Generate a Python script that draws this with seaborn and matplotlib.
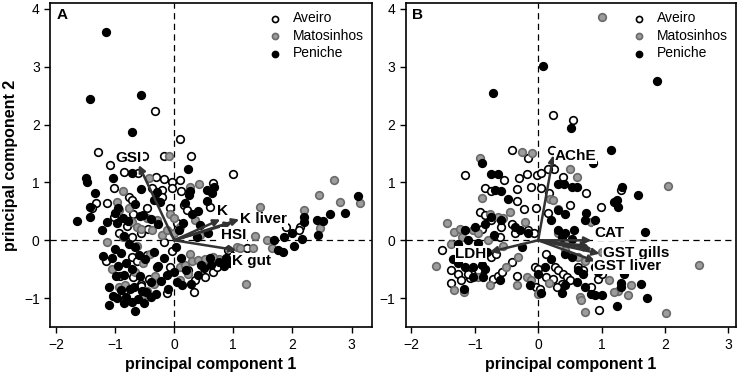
import numpy as np
import pandas as pd
import matplotlib
matplotlib.use("Agg")
import matplotlib.pyplot as plt
import seaborn as sns

# panel A - scores (PC1, PC2) per site
a_aveiro = [(-0.32,2.23),(0.10,1.75),(-1.29,1.53),(-0.51,1.46),(0.28,1.46),(-0.17,1.45),(1.00,1.14),
            (-1.09,1.30),(-0.85,1.18),(-0.61,1.16),(-0.30,1.10),(-0.18,1.06),(-0.04,1.01),(0.65,0.99),
            (-1.02,0.90),(-0.77,0.75),(-0.72,0.69),(-1.32,0.64),(-1.39,0.55),(-1.14,0.64),(-0.38,0.90),
            (-0.21,0.87),(-0.21,0.75),(-0.03,0.91),(0.12,0.85),(0.17,0.61),(0.21,0.52),(-0.07,0.55),
            (0.61,0.58),(-0.46,0.55),(-1.02,0.40),(-0.69,0.46),(-0.94,0.12),(-0.72,0.06),(-0.57,0.12),
            (-0.18,-0.03),(-0.04,-0.18),(-1.15,-0.35),(-0.72,-0.29),(-0.63,-0.35),(-0.46,-0.26),
            (-0.29,-0.46),(-0.07,-0.46),(-0.91,-0.61),(-0.70,-0.64),(-0.57,-0.75),(-0.57,-0.79),
            (-0.43,-0.66),(-0.12,-0.91),(0.33,-0.90),(0.36,-0.68),(0.52,-0.64),(0.24,-0.52),
            (0.66,-0.55),(0.72,-0.46),(0.95,-0.23),(1.23,-0.14),(0.91,-0.17),(1.90,0.23),(2.13,0.23),
            (2.12,0.17),(0.10,1.04),(-0.80,0.25),(-0.45,0.20),(0.05,0.30)]
a_matos = [(-0.09,1.45),(2.45,0.78),(2.71,1.04),(2.80,0.66),(3.14,0.64),(2.20,0.52),(2.46,0.21),
           (1.46,0.57),(1.37,0.07),(1.57,0.01),(1.65,-0.14),(1.34,-0.14),(1.22,-0.76),(1.06,-0.12),
           (1.11,-0.14),(0.75,-0.32),(0.66,-0.29),(0.42,0.98),(0.26,0.92),(-0.43,1.07),(-0.87,0.86),
           (-0.97,0.66),(-0.94,0.52),(-0.77,0.55),(-0.72,0.32),(-0.63,0.23),(-0.57,0.20),(-0.46,0.38),
           (-0.38,0.17),(-0.29,0.35),(-0.21,0.09),(-0.12,0.17),(-0.01,0.12),(0.10,0.23),(-0.07,0.46),
           (-0.01,0.38),(-1.14,-0.03),(-0.86,0.05),(-1.05,-0.49),(-0.52,-0.40),(-0.41,-0.23),
           (-0.35,-0.75),(-0.46,-0.87),(-0.52,-0.95),(-0.94,-0.81),(-0.83,-0.78),(0.10,-0.46),
           (0.19,-0.43),(0.27,-0.23),(0.30,-0.35),(0.41,-0.34),(0.52,-0.32),(0.24,-0.58),(0.10,-0.69),
           (-0.32,-0.61),(-0.63,-0.09),(0.44,0.09),(-0.66,-0.55),(0.35,0.35)]
a_pen = [(-1.15,3.60),(-1.42,2.44),(-0.57,2.51),(-0.72,1.87),(0.23,1.23),(-1.49,1.07),(-1.47,1.01),
         (-1.34,0.81),(-1.42,0.58),(-1.42,0.40),(-1.64,0.34),(-1.22,0.17),(-1.13,0.32),(-1.04,1.07),
         (-0.72,1.16),(-0.57,0.88),(3.11,0.76),(2.89,0.48),(2.63,0.45),(2.52,0.34),(2.41,0.35),
         (2.44,0.10),(2.20,0.40),(2.20,0.32),(1.99,0.13),(2.03,-0.10),(2.16,0.02),(1.86,0.05),
         (1.69,0.00),(1.76,-0.17),(1.84,-0.21),(0.38,0.05),(0.64,0.81),(0.67,0.92),(0.56,0.87),
         (0.27,0.85),(0.25,0.79),(0.18,0.65),(0.55,0.68),(-0.29,0.84),(-0.24,0.66),(-0.34,0.69),
         (-0.95,0.55),(-1.00,0.47),(-0.87,0.38),(-0.96,0.30),(-0.78,0.34),(-0.58,0.42),(-0.52,0.44),
         (-0.66,0.62),(-0.40,0.37),(-0.28,0.28),(0.08,0.18),(0.15,0.30),(0.30,0.45),(0.44,0.26),
         (0.58,0.12),(0.40,0.50),(-0.85,0.08),(-0.76,-0.06),(-0.66,-0.12),(-1.20,-0.27),(-1.05,-0.30),
         (-0.90,-0.22),(-0.60,-0.25),(-0.50,-0.33),(-0.35,-0.20),(-0.18,-0.30),(0.03,-0.12),
         (0.12,-0.30),(-1.11,-1.11),(-0.66,-1.23),(-0.51,-1.09),(-1.03,-0.96),(-0.97,-1.00),
         (-0.82,-0.98),(-0.72,-1.06),(-0.62,-1.02),(-0.90,-0.86),(-0.75,-0.85),(-0.55,-0.88),
         (-0.48,-0.90),(-0.30,-0.93),(-0.10,-0.85),(0.05,-0.72),(0.14,-0.78),(0.28,-0.75),
         (-1.10,-0.80),(-0.98,-0.62),(-0.85,-0.60),(-0.72,-0.50),(-0.58,-0.62),(-0.40,-0.72),
         (-0.22,-0.70),(-0.12,-0.60),(0.00,-0.55),(0.20,-0.52),(0.40,-0.60),(0.50,-0.47),(0.62,-0.42),
         (0.75,-0.38),(0.85,-0.45),(0.95,-0.40),(0.88,-0.30),(0.60,-0.30),(0.45,-0.42),(-0.28,-0.45),
         (-0.82,-0.40),(-0.95,-0.45),(-1.00,-0.15),(-0.68,-0.80),(-0.85,-1.08),(-0.40,-0.98)]

# panel B - scores
b_aveiro = [(0.24,2.17),(0.55,2.08),(-0.41,1.56),(-0.16,1.43),(0.22,1.56),(0.25,1.24),(0.15,1.24),
            (-0.02,1.13),(0.04,1.16),(-0.17,1.14),(-0.31,1.07),(-1.16,1.12),(-0.84,0.91),(-0.75,0.86),
            (-0.54,1.04),(-0.33,0.88),(-0.11,0.92),(0.04,0.91),(0.39,1.10),(0.50,0.61),(0.17,0.81),
            (0.15,0.47),(0.76,0.81),(0.99,0.57),(1.30,0.87),(-0.33,0.68),(-0.23,0.54),(-0.92,0.49),
            (-0.84,0.43),(-0.74,0.35),(-0.58,0.23),(-0.42,0.28),(-0.37,0.12),(-0.16,0.17),(-0.07,0.12),
            (-0.03,0.55),(-1.51,-0.16),(-1.37,-0.51),(-1.37,-0.74),(-1.27,-0.59),(-1.21,-0.69),
            (-1.08,-0.65),(-1.10,-0.58),(-0.95,-0.52),(-0.71,-0.66),(-0.64,-0.61),(-0.57,-0.55),
            (-0.74,-0.29),(-0.66,-0.23),(-0.42,-0.38),(-0.33,-0.62),(-0.05,-0.46),(0.00,-0.49),
            (-0.03,-0.81),(0.03,-0.84),(0.13,-0.64),(0.24,-0.66),(0.26,-0.46),(0.32,-0.52),(0.39,-0.58),
            (0.45,-0.64),(0.50,-0.69),(0.37,-0.75),(0.29,-0.80),(0.63,-0.46),(0.71,-0.52),(0.84,-0.81),
            (0.95,-0.66),(1.00,-0.58),(0.96,-1.21),(0.13,-0.23),(-0.88,0.20),(-0.60,0.05)]
b_matos = [(1.01,3.86),(2.05,0.94),(2.54,-0.42),(2.02,-1.25),(0.74,-1.24),(-1.61,-0.45),(-1.44,0.30),
           (-1.33,0.14),(-1.24,0.19),(-1.37,-0.06),(-1.33,-0.86),(-1.17,-0.90),(-0.91,1.43),(-0.89,0.73),
           (-0.26,1.53),(-0.09,1.51),(-0.76,0.46),(-0.63,0.40),(-0.55,0.38),(-0.45,0.49),(-0.21,0.32),
           (-1.03,0.17),(-0.95,0.12),(-0.79,0.00),(-1.13,-0.18),(-1.05,-0.26),(-0.95,-0.64),(-0.76,-0.78),
           (-0.50,-0.46),(-0.32,-0.29),(-0.34,-0.78),(-0.17,-0.64),(-0.11,-0.69),(0.00,-0.92),(0.32,0.54),
           (0.18,0.71),(0.50,1.24),(0.61,1.10),(0.23,0.69),(0.63,-0.29),(0.74,-0.35),(0.66,-0.98),
           (0.68,-1.04),(1.26,-0.87),(1.20,-0.90),(1.41,-0.95),(1.47,-0.78),(1.01,-0.20),(1.11,-0.69),
           (0.84,0.32),(0.32,0.12),(0.42,-0.17),(0.17,-0.74),(-0.55,-0.10),(-1.20,0.05)]
b_pen = [(0.07,3.01),(1.88,2.75),(-0.72,2.55),(0.52,1.94),(1.15,1.56),(0.87,1.33),(-0.89,1.33),
         (-0.74,1.14),(-0.63,1.14),(-0.68,0.87),(-0.58,0.86),(-0.47,0.71),(0.32,0.98),(0.41,0.97),
         (0.53,0.92),(0.61,0.92),(1.20,0.66),(1.24,0.69),(1.32,0.92),(1.58,0.78),(1.26,0.58),(0.75,0.47),
         (1.68,0.14),(0.74,0.35),(0.89,0.35),(0.57,0.17),(0.42,0.12),(0.32,0.18),(0.21,0.35),(0.32,0.52),
         (0.42,0.46),(-1.16,0.18),(-1.00,0.23),(-0.84,0.29),(-0.74,0.40),(-0.58,0.35),(-0.37,0.23),
         (-0.29,0.17),(-0.16,0.12),(-1.26,-0.06),(-1.10,0.00),(-1.34,-0.32),(-1.26,-0.40),(-1.16,-0.46),
         (-1.03,-0.46),(-0.89,-0.43),(-0.84,-0.49),(-1.17,-0.84),(-1.03,-0.64),(-0.87,-0.64),(-0.61,-0.69),
         (-0.13,-0.78),(0.05,-0.91),(0.37,-0.91),(0.42,-0.78),(0.61,-0.72),(0.74,-0.81),(0.84,-0.92),
         (0.89,-0.95),(1.00,-0.95),(1.24,-1.13),(1.30,-0.80),(1.30,-0.74),(1.36,-0.59),(1.62,-0.76),
         (1.71,-1.00),(0.89,-0.46),(0.95,-0.55),(0.63,-0.52),(0.71,-0.58),(0.42,-0.23),(0.53,-0.29),
         (0.21,-0.32),(0.10,-0.46),(0.00,-0.58),(0.37,0.05),(0.53,0.03),(-0.26,-0.12),(-0.80,-0.20),
         (-0.95,-0.05),(-0.70,0.10)]

# loadings (arrow tips) and where their labels sit
a_vars = ["GSI", "K", "K liver", "HSI", "K gut"]
a_tips = [(-0.60, 1.30), (0.78, 0.36), (1.10, 0.36), (0.98, 0.30), (1.05, -0.17)]
a_text = [(-0.77, 1.42), (0.82, 0.50), (1.51, 0.36), (1.00, 0.09), (1.31, -0.35)]
b_vars = ["AChE", "LDH", "CAT", "GST gills", "GST liver"]
b_tips = [(0.24, 1.47), (-0.76, -0.20), (0.84, 0.00), (0.97, -0.23), (0.90, -0.36)]
b_text = [(0.59, 1.46), (-1.06, -0.24), (1.12, 0.12), (1.55, -0.22), (1.41, -0.45)]
b_extra = [(0.80, -0.10), (0.85, -0.15)]

sites = ["Aveiro", "Matosinhos", "Peniche"]

def make_df(groups):
    rows = []
    for site, pts in zip(sites, groups):
        for x, y in pts:
            rows.append({"pc1": x, "pc2": y, "site": site})
    return pd.DataFrame(rows)

dfA = make_df([a_aveiro, a_matos, a_pen])
dfB = make_df([b_aveiro, b_matos, b_pen])

sns.set_style("ticks")
plt.rcParams['font.family'] = ['Liberation Sans', 'DejaVu Sans']
for k in ["text.color", "axes.labelcolor", "xtick.color", "ytick.color", "axes.edgecolor"]:
    plt.rcParams[k] = "black"

fig = plt.figure(figsize=(7.37, 3.73), dpi=100)
axA = fig.add_axes([0.068, 0.123, 0.437, 0.869])
axB = fig.add_axes([0.5505, 0.123, 0.448, 0.869])

face = {"Aveiro": "white", "Matosinhos": "#9c9c9c", "Peniche": "black"}
edge = {"Aveiro": "black", "Matosinhos": "#6a6a6a", "Peniche": "black"}

def panel(ax, df, letter, vars_, tips, texts, xlim, extra=()):
    ax.axhline(0, color="black", lw=0.9, ls=(0, (5, 3.5)), zorder=1)
    ax.axvline(0, color="black", lw=0.9, ls=(0, (5, 3.5)), zorder=1)
    for site in sites:
        sub = df[df.site == site]
        sns.scatterplot(data=sub, x="pc1", y="pc2", ax=ax, s=30, color=face[site],
                        edgecolor=edge[site], linewidth=1.2, label=site, zorder=3)
    for (tx, ty) in list(tips) + list(extra):
        ax.annotate("", xy=(tx, ty), xytext=(0, 0),
                    arrowprops=dict(arrowstyle="-|>", color="#333333", lw=1.8,
                                    mutation_scale=10, shrinkA=0, shrinkB=0), zorder=4)
    for name, (lx, ly) in zip(vars_, texts):
        ax.text(lx, ly, name, fontsize=11, fontweight="bold", ha="center", va="center",
                color="black", bbox=dict(facecolor="white", edgecolor="none", pad=0.5), zorder=5)
    ax.set_xlim(*xlim)
    ax.set_ylim(-1.5, 4.1)
    ax.set_xticks([-2, -1, 0, 1, 2, 3])
    ax.set_yticks([-1, 0, 1, 2, 3, 4])
    ax.tick_params(labelsize=10, length=4, width=1, colors="black")
    for sp in ax.spines.values():
        sp.set_linewidth(1.2)
        sp.set_color("black")
    ax.set_xlabel("principal component 1", fontsize=11.5, fontweight="bold")
    ax.set_ylabel("")
    ax.text(0.02, 0.985, letter, transform=ax.transAxes, fontsize=11, fontweight="bold",
            ha="left", va="top")
    ax.legend(loc="upper right", frameon=False, fontsize=10, handletextpad=0.3,
              borderaxespad=0.2, labelspacing=0.25, markerscale=0.8)

panel(axA, dfA, "A", a_vars, a_tips, a_text, (-2.1, 3.35))
panel(axB, dfB, "B", b_vars, b_tips, b_text, (-2.09, 3.12), b_extra)
axA.set_ylabel("principal component 2", fontsize=11.5, fontweight="bold")

fig.savefig("out.png", dpi=100)
